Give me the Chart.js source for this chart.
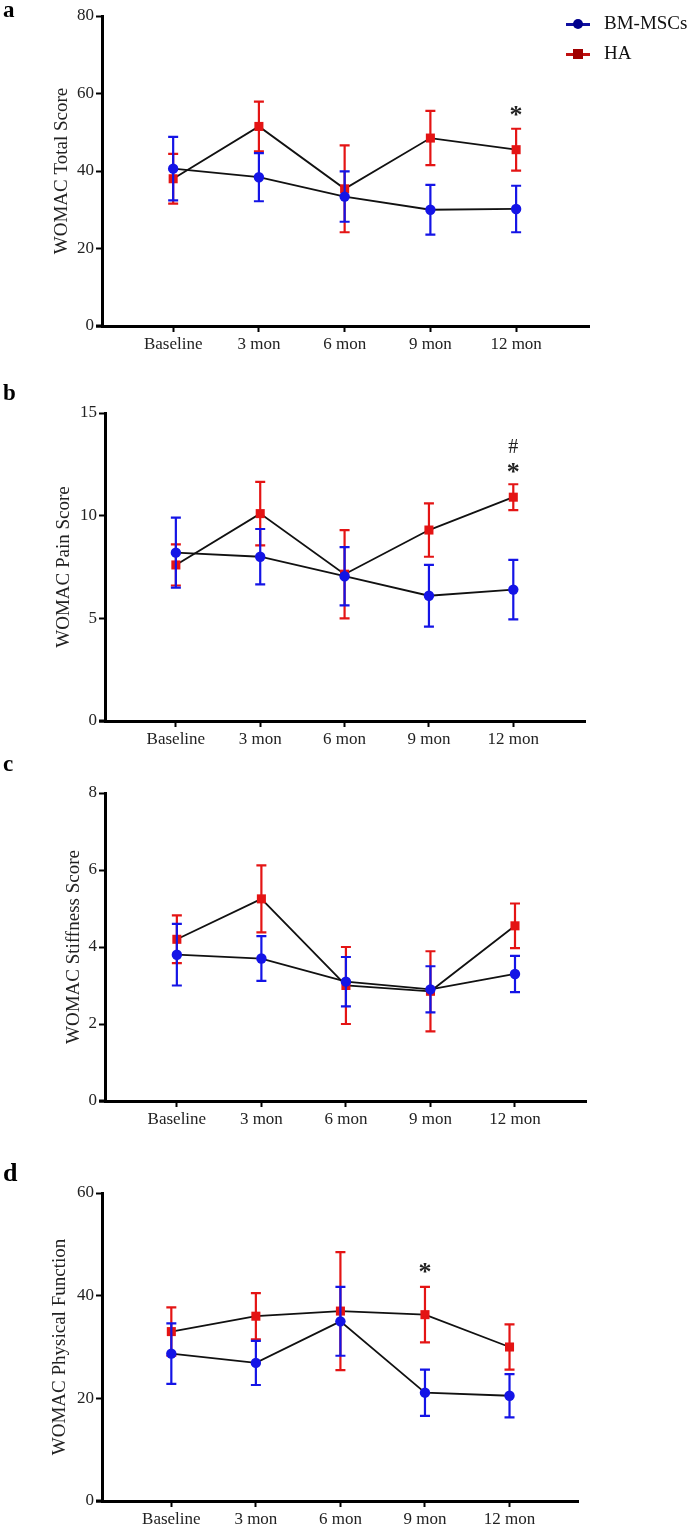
<!DOCTYPE html>
<html>
<head>
<meta charset="utf-8">
<script src="https://cdn.jsdelivr.net/npm/chart.js@4.4.0/dist/chart.umd.min.js"></script>
<style>
  html, body { margin: 0; padding: 0; background: #fff; }
  body { width: 688px; height: 1530px; position: relative; overflow: hidden; font-family: "Liberation Serif", "Times New Roman", serif; }
  .panel { position: absolute; left: 0; width: 688px; }
  .tag { position: absolute; left: 3px; font-weight: bold; font-size: 23px; line-height: 1; color: #000; }
  #legend { position: absolute; left: 566px; top: 10px; font-size: 19px; color: #111; }
  .lg-row { position: relative; height: 30px; }
  .lg-line { position: absolute; left: 0; top: 13px; width: 24px; height: 3px; }
  .lg-mark { position: absolute; left: 7px; top: 9px; width: 10px; height: 10px; }
  .lg-text { position: absolute; left: 38px; top: 2px; white-space: nowrap; }
</style>
</head>
<body>

<div class="panel" style="top:0;height:370px;"><canvas id="chartA"></canvas></div>
<div class="panel" style="top:370px;height:392px;"><canvas id="chartB"></canvas></div>
<div class="panel" style="top:740px;height:400px;"><canvas id="chartC"></canvas></div>
<div class="panel" style="top:1120px;height:410px;"><canvas id="chartD"></canvas></div>

<div class="tag" style="top:-2px;">a</div>
<div class="tag" style="top:381px;">b</div>
<div class="tag" style="top:752px;">c</div>
<div class="tag" style="top:1160px;font-size:26px;">d</div>

<div id="legend">
  <div class="lg-row">
    <div class="lg-line" style="background:#1010a0;"></div>
    <div class="lg-mark" style="background:#00008c;border-radius:50%;"></div>
    <div class="lg-text">BM-MSCs</div>
  </div>
  <div class="lg-row">
    <div class="lg-line" style="background:#c01010;"></div>
    <div class="lg-mark" style="background:#a00000;"></div>
    <div class="lg-text">HA</div>
  </div>
</div>

<script>
const categories = ['Baseline', '3 mon', '6 mon', '9 mon', '12 mon'];
const seriesNames = ['BM-MSCs', 'HA'];

// a - WOMAC Total Score
const bmTotal = [40.6, 38.4, 33.4, 30.0, 30.2];
const bmTotalErr = [8.2, 6.2, 6.5, 6.4, 6.0];
const haTotal = [38.0, 51.5, 35.4, 48.5, 45.5];
const haTotalErr = [6.4, 6.4, 11.2, 7.0, 5.4];
const totalTicks = [0, 20, 40, 60, 80];

// b - WOMAC Pain Score
const bmPain = [8.2, 8.0, 7.05, 6.1, 6.4];
const bmPainErr = [1.7, 1.35, 1.42, 1.5, 1.45];
const haPain = [7.6, 10.1, 7.15, 9.3, 10.9];
const haPainErr = [1.0, 1.55, 2.15, 1.3, 0.63];
const painTicks = [0, 5, 10, 15];

// c - WOMAC Stiffness Score
const bmStiff = [3.8, 3.7, 3.1, 2.9, 3.3];
const bmStiffErr = [0.8, 0.58, 0.64, 0.6, 0.47];
const haStiff = [4.2, 5.25, 3.0, 2.85, 4.55];
const haStiffErr = [0.62, 0.87, 1.0, 1.04, 0.58];
const stiffTicks = [0, 2, 4, 6, 8];

// d - WOMAC Physical Function
const bmFunc = [28.7, 26.9, 35.0, 21.1, 20.5];
const bmFuncErr = [5.9, 4.3, 6.7, 4.5, 4.2];
const haFunc = [33.0, 36.0, 37.0, 36.3, 30.0];
const haFuncErr = [4.7, 4.5, 11.5, 5.4, 4.4];
const funcTicks = [0, 20, 40, 60];

// significance marks: [category index, y value, symbol]
const totalMarks = [[4, 55.3, '*']];
const painMarks = [[4, 13.3, '#'], [4, 12.3, '*']];
const stiffMarks = [];
const funcMarks = [[3, 45.4, '*']];

const SERIF = '"Liberation Serif", "Times New Roman", serif';
const BLUE = '#1414e6';
const RED = '#e41414';

const errorBars = {
  id: 'errorBars',
  beforeDatasetDraw(chart, args) {
    const ds = chart.data.datasets[args.index];
    if (!ds.errors) return;
    const { x, y } = chart.scales;
    const ctx = chart.ctx;
    ctx.save();
    ctx.strokeStyle = ds.errColor;
    ctx.lineWidth = 2.2;
    ds.data.forEach((p, i) => {
      const px = x.getPixelForValue(p.x);
      const top = y.getPixelForValue(p.y + ds.errors[i]);
      const bot = y.getPixelForValue(p.y - ds.errors[i]);
      ctx.beginPath();
      ctx.moveTo(px, top); ctx.lineTo(px, bot);
      ctx.moveTo(px - 5, top); ctx.lineTo(px + 5, top);
      ctx.moveTo(px - 5, bot); ctx.lineTo(px + 5, bot);
      ctx.stroke();
    });
    ctx.restore();
  },
  afterDraw(chart) {
    const marks = chart.options.plugins.errorBars.marks || [];
    const { x, y } = chart.scales;
    const ctx = chart.ctx;
    ctx.save();
    ctx.fillStyle = '#222';
    ctx.textAlign = 'center';
    ctx.textBaseline = 'middle';
    marks.forEach(([i, v, t]) => {
      ctx.font = (t === '*' ? 'bold 26px ' : '20px ') + SERIF;
      ctx.fillText(t, x.getPixelForValue(i), y.getPixelForValue(v) + (t === '*' ? 5 : 0));
    });
    // x axis runs a little past the y axis on the left
    ctx.strokeStyle = '#000';
    ctx.lineWidth = 3;
    ctx.beginPath();
    ctx.moveTo(chart.chartArea.left - 6, chart.chartArea.bottom);
    ctx.lineTo(chart.chartArea.left, chart.chartArea.bottom);
    ctx.stroke();
    ctx.restore();
  }
};

function makePanel(id, o) {
  const c = document.getElementById(id);
  const H = c.parentElement.clientHeight;
  return new Chart(c, {
    type: 'line',
    data: {
      datasets: [
        {
          label: seriesNames[0],
          data: o.bm.map((v, i) => ({ x: i, y: v })),
          errors: o.bmErr, errColor: BLUE,
          borderColor: '#111', borderWidth: 1.8,
          pointStyle: 'circle', pointRadius: 5.2,
          pointBackgroundColor: BLUE, pointBorderColor: BLUE, pointBorderWidth: 0,
        },
        {
          label: seriesNames[1],
          data: o.ha.map((v, i) => ({ x: i, y: v })),
          errors: o.haErr, errColor: RED,
          borderColor: '#111', borderWidth: 1.8,
          pointStyle: 'rect', pointRadius: 6.4,
          pointBackgroundColor: RED, pointBorderColor: RED, pointBorderWidth: 0,
        },
      ],
    },
    options: {
      responsive: false,
      animation: false,
      events: [],
      layout: { padding: { top: o.top, right: 688 - o.right, left: 0, bottom: 0 } },
      plugins: {
        legend: { display: false },
        tooltip: { enabled: false },
        errorBars: { marks: o.marks },
      },
      scales: {
        x: {
          type: 'linear',
          min: o.xmin, max: o.xmax,
          afterBuildTicks: s => { s.ticks = categories.map((_, i) => ({ value: i })); },
          afterFit: s => { s.height = H - o.bottom; },
          ticks: {
            callback: v => categories[v],
            color: '#222', font: { family: SERIF, size: 17 }, padding: 2,
            maxRotation: 0, autoSkip: false,
          },
          grid: { display: true, drawOnChartArea: false, drawTicks: true, tickLength: 6, tickWidth: 2, color: '#000' },
          border: { display: true, color: '#000', width: 3 },
        },
        y: {
          min: 0, max: o.yTicks[o.yTicks.length - 1],
          afterBuildTicks: s => { s.ticks = o.yTicks.map(v => ({ value: v })); },
          afterFit: s => { s.width = o.left; },
          ticks: { color: '#222', font: { family: SERIF, size: 17 }, padding: 2 },
          grid: { display: true, drawOnChartArea: false, drawTicks: true, tickLength: 6, tickWidth: 2, color: '#000' },
          border: { display: true, color: '#000', width: 3 },
          title: {
            display: true, text: o.title, color: '#222',
            font: { family: SERIF, size: 19 },
            padding: { top: o.titlePad, bottom: 0 },
          },
        },
      },
    },
    plugins: [errorBars],
  });
}

function sizeCanvas(id) {
  const c = document.getElementById(id);
  c.width = 688; c.height = c.parentElement.clientHeight;
  c.style.width = '688px'; c.style.height = c.height + 'px';
}
['chartA', 'chartB', 'chartC', 'chartD'].forEach(sizeCanvas);

makePanel('chartA', {
  bm: bmTotal, bmErr: bmTotalErr, ha: haTotal, haErr: haTotalErr, yTicks: totalTicks, marks: totalMarks,
  title: 'WOMAC Total Score', titlePad: 51,
  left: 102, right: 589, top: 16, bottom: 326, xmin: -0.83, xmax: 4.85,
});
makePanel('chartB', {
  bm: bmPain, bmErr: bmPainErr, ha: haPain, haErr: haPainErr, yTicks: painTicks, marks: painMarks,
  title: 'WOMAC Pain Score', titlePad: 53,
  left: 105, right: 585, top: 43, bottom: 351, xmin: -0.84, xmax: 4.85,
});
makePanel('chartC', {
  bm: bmStiff, bmErr: bmStiffErr, ha: haStiff, haErr: haStiffErr, yTicks: stiffTicks, marks: stiffMarks,
  title: 'WOMAC Stiffness Score', titlePad: 63,
  left: 105, right: 586, top: 53, bottom: 361, xmin: -0.85, xmax: 4.84,
});
makePanel('chartD', {
  bm: bmFunc, bmErr: bmFuncErr, ha: haFunc, haErr: haFuncErr, yTicks: funcTicks, marks: funcMarks,
  title: 'WOMAC Physical Function', titlePad: 49,
  left: 102, right: 578, top: 73, bottom: 381, xmin: -0.82, xmax: 4.81,
});
</script>
</body>
</html>
